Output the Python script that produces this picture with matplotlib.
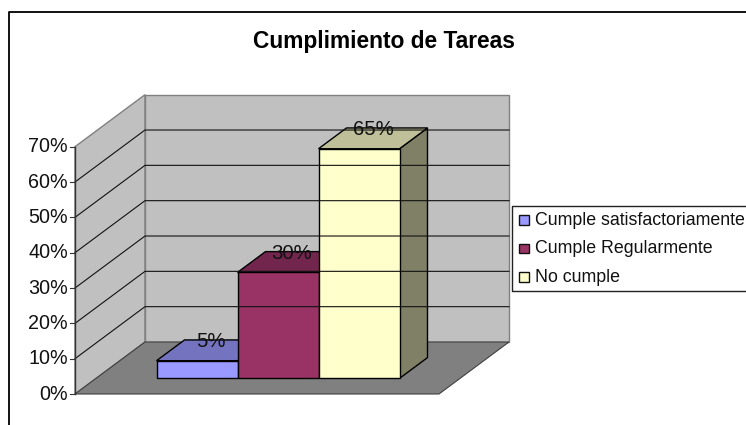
import matplotlib
matplotlib.use('Agg')
import matplotlib.pyplot as plt
from matplotlib.patches import Polygon, Rectangle

plt.rcParams['font.family'] = ['Liberation Sans', 'DejaVu Sans']

TITLE = 'Cumplimiento de Tareas'
categories = ['Cumple satisfactoriamente', 'Cumple Regularmente', 'No cumple']
values = [5, 30, 65]
colors = ['#9999FF', '#993366', '#FFFFCC']
tops = ['#7373BF', '#73264D', '#BFBF99']
sides = ['#4D4D80', '#4D1A33', '#808066']
ticks = [0, 10, 20, 30, 40, 50, 60, 70]

# pixel geometry of the fake 3d box
LEFT, BASE = 75, 394
WIDTH = 364
DEPTH_X, DEPTH_Y = 70, 52
PX_PER_PCT = 3.533
BAR_W = 81 / WIDTH
GAP = 1 - BAR_W * len(values)
D0, D1 = 0.30, 0.70
EDGE = '#000000'
WALL_EDGE = '#808080'


def proj(x, d, v):
    return (LEFT + x * WIDTH + d * DEPTH_X, BASE - v * PX_PER_PCT - d * DEPTH_Y)


fig = plt.figure(figsize=(7.46, 4.25), dpi=100)
ax = fig.add_axes([0, 0, 1, 1])
ax.set_xlim(0, 746)
ax.set_ylim(425, 0)
ax.axis('off')

# chart frame, cut off by the image on the right and bottom
ax.plot([9.3, 9.3, 746], [425, 11.5, 11.5], color='#000000', lw=1.3, solid_capstyle='butt')

vmax = ticks[-1]
# walls and floor
ax.add_patch(Polygon([proj(0, 0, 0), proj(0, 1, 0), proj(0, 1, vmax), proj(0, 0, vmax)],
                     fc='#C0C0C0', ec=WALL_EDGE, lw=1))
ax.add_patch(Polygon([proj(0, 1, 0), proj(1, 1, 0), proj(1, 1, vmax), proj(0, 1, vmax)],
                     fc='#C0C0C0', ec=WALL_EDGE, lw=1))
ax.add_patch(Polygon([proj(0, 0, 0), proj(1, 0, 0), proj(1, 1, 0), proj(0, 1, 0)],
                     fc='#808080', ec='#404040', lw=0.8))

# gridlines
for t in ticks[1:-1]:
    pts = [proj(0, 0, t), proj(0, 1, t), proj(1, 1, t)]
    ax.plot([p[0] for p in pts], [p[1] for p in pts], color='#111111', lw=0.8)

# y axis
ax.plot(*zip(proj(0, 0, 0), proj(0, 0, vmax)), color='#333333', lw=1)
for t in ticks:
    x, y = proj(0, 0, t)
    ax.plot([x - 5, x], [y, y], color='#333333', lw=0.8)
    ax.text(x - 7, y, f'{t}%', ha='right', va='center', fontsize=14.2, color='#111111')

# bars
for i, (val, c, top, side) in enumerate(zip(values, colors, tops, sides)):
    x0 = GAP / 2 + i * BAR_W
    x1 = x0 + BAR_W
    ax.add_patch(Polygon([proj(x1, D0, 0), proj(x1, D1, 0), proj(x1, D1, val), proj(x1, D0, val)],
                         fc=side, ec=EDGE, lw=1, joinstyle='miter'))
    ax.add_patch(Polygon([proj(x0, D0, val), proj(x1, D0, val), proj(x1, D1, val), proj(x0, D1, val)],
                         fc=top, ec=EDGE, lw=1, joinstyle='miter'))
    ax.add_patch(Polygon([proj(x0, D0, 0), proj(x1, D0, 0), proj(x1, D0, val), proj(x0, D0, val)],
                         fc=c, ec=EDGE, lw=1, joinstyle='miter'))
    # label sits over the middle of the top face, on its back edge
    lx = proj((x0 + x1) / 2, (D0 + D1) / 2, val)[0]
    ly = proj(x0, D1, val)[1] + 1.5
    ax.text(lx, ly, f'{val}%', ha='center', va='center', fontsize=14.7, color='#111111')

ax.text(383.5, 41, TITLE, ha='center', va='center', fontsize=16.4, fontweight='bold', color='#000000')

# legend, also running into the image edge
ax.plot([746, 511.5, 511.5, 746], [205.7, 205.7, 291, 291], color='#222222', lw=1, solid_capstyle='butt')
for i, name in enumerate(categories):
    y = 220 + i * 28.5
    ax.add_patch(Rectangle((519, y - 5), 9.5, 9.5, fc=colors[i], ec='#111111', lw=1))
    ax.text(535, y, name, ha='left', va='center', fontsize=12.8, color='#111111')

fig.savefig('out.png', dpi=100)
plt.close(fig)
